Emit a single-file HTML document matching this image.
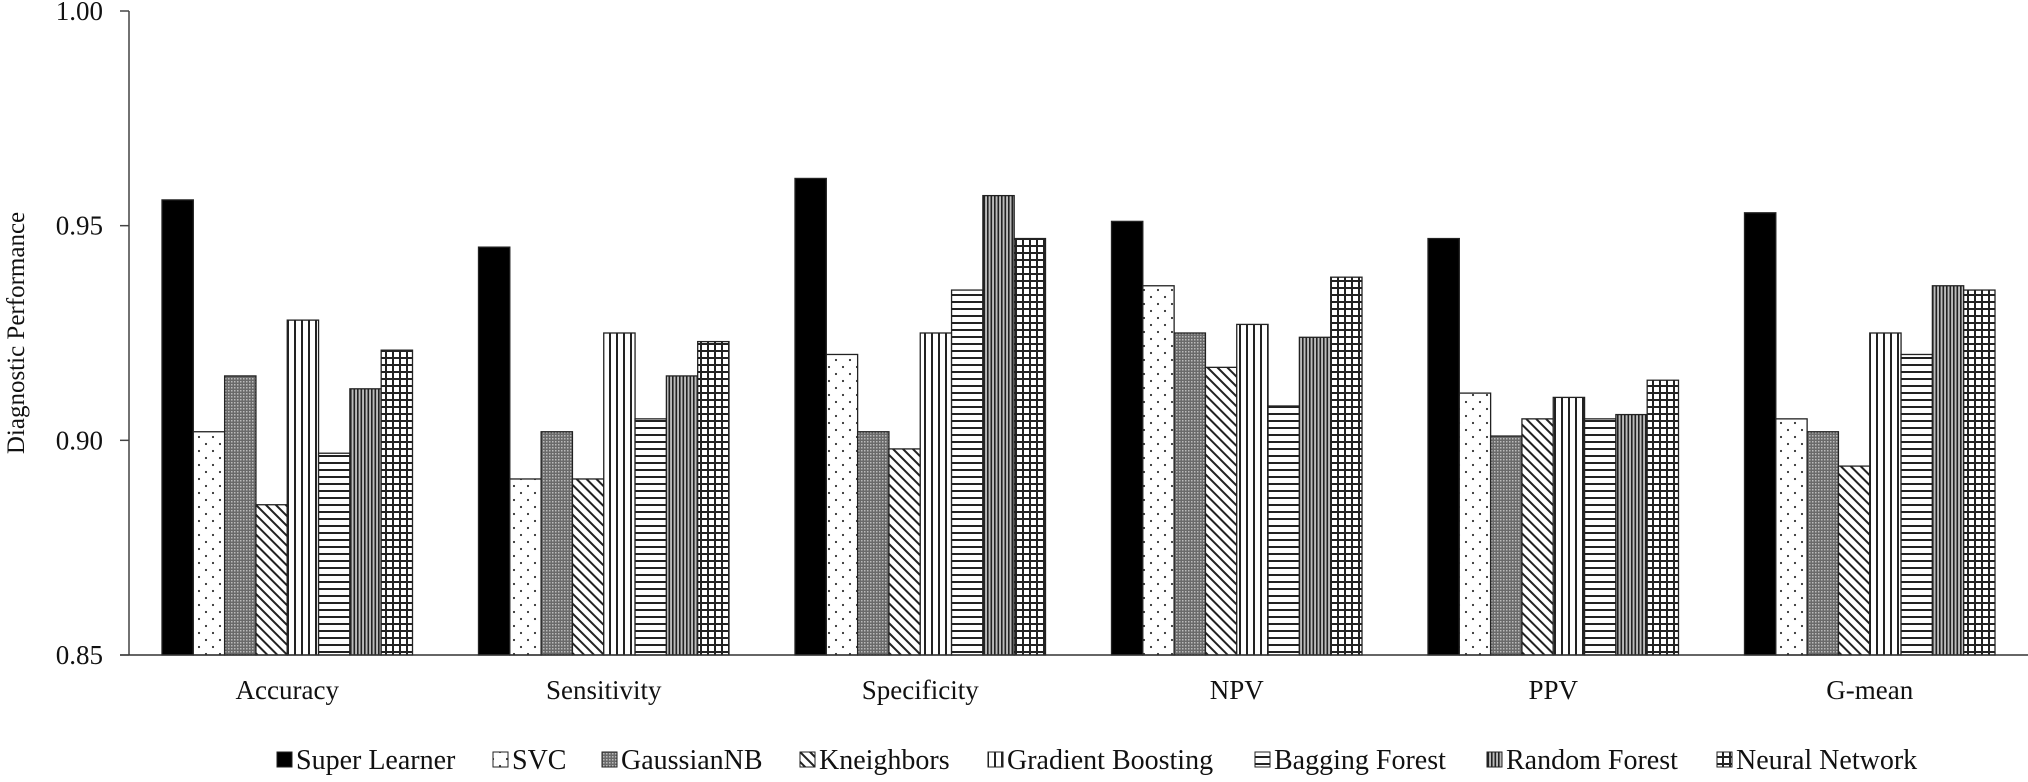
<!DOCTYPE html>
<html><head><meta charset="utf-8">
<style>
html,body{margin:0;padding:0;background:#fff;}
svg{display:block;font-family:"Liberation Serif",serif;}
</style></head>
<body>
<svg id="chart" width="2028" height="782" viewBox="0 0 2028 782" xmlns="http://www.w3.org/2000/svg">
<defs>
  <pattern id="p1" width="14" height="14" patternUnits="userSpaceOnUse"><rect width="14" height="14" fill="#fff"/><circle cx="3" cy="3" r="1.1" fill="#333"/><circle cx="10" cy="10" r="1.1" fill="#333"/></pattern>
  <pattern id="p2" width="3" height="3" patternUnits="userSpaceOnUse"><rect width="3" height="3" fill="#6a6a6a"/><rect width="1.5" height="1.5" fill="#bbb"/></pattern>
  <pattern id="p3" width="7" height="7" patternUnits="userSpaceOnUse" patternTransform="rotate(45)"><rect width="7" height="7" fill="#fff"/><rect width="7" height="2" fill="#222"/></pattern>
  <pattern id="p4" width="7" height="7" patternUnits="userSpaceOnUse"><rect width="7" height="7" fill="#fff"/><rect width="2" height="7" fill="#222"/></pattern>
  <pattern id="p5" width="7" height="7" patternUnits="userSpaceOnUse"><rect width="7" height="7" fill="#fff"/><rect width="7" height="2" fill="#222"/></pattern>
  <pattern id="p6" width="3.5" height="3.5" patternUnits="userSpaceOnUse"><rect width="3.5" height="3.5" fill="#bbb"/><rect width="1.6" height="3.5" fill="#222"/></pattern>
  <pattern id="p7" width="7" height="7" patternUnits="userSpaceOnUse"><rect width="7" height="7" fill="#fff"/><rect width="2" height="7" fill="#222"/><rect width="7" height="2" fill="#222"/></pattern>
</defs>
<g id="bars"></g>
<g id="axes"></g>
<g id="legend"></g>
</svg>
<script>
const categories = ["Accuracy","Sensitivity","Specificity","NPV","PPV","G-mean"];
const seriesNames = ["Super Learner","SVC","GaussianNB","Kneighbors","Gradient Boosting","Bagging Forest","Random Forest","Neural Network"];
const superLearner = [0.956,0.945,0.961,0.951,0.947,0.953];
const svc = [0.902,0.891,0.920,0.936,0.911,0.905];
const gaussianNB = [0.915,0.902,0.902,0.925,0.901,0.902];
const kneighbors = [0.885,0.891,0.898,0.917,0.905,0.894];
const gradientBoosting = [0.928,0.925,0.925,0.927,0.910,0.925];
const baggingForest = [0.897,0.905,0.935,0.908,0.905,0.920];
const randomForest = [0.912,0.915,0.957,0.924,0.906,0.936];
const neuralNetwork = [0.921,0.923,0.947,0.938,0.914,0.935];
const yTicks = ["0.85","0.90","0.95","1.00"];

const series = [superLearner,svc,gaussianNB,kneighbors,gradientBoosting,baggingForest,randomForest,neuralNetwork];
const fills = ["#000","url(#p1)","url(#p2)","url(#p3)","url(#p4)","url(#p5)","url(#p6)","url(#p7)"];
const NS = "http://www.w3.org/2000/svg";
const X0 = 129, X1 = 2028, Y0 = 655, Y1 = 11, YMIN = 0.85, YMAX = 1.0;
const groupW = (X1 - X0) / categories.length;
const pad = 33, barW = (groupW - 2*pad) / series.length;
function yScale(v){ return Y0 - (v - YMIN) / (YMAX - YMIN) * (Y0 - Y1); }
function xGroup(i){ return X0 + i * groupW; }
function mk(tag, attrs, parent){ const e = document.createElementNS(NS, tag); for (const k in attrs) e.setAttribute(k, attrs[k]); parent.appendChild(e); return e; }

const gb = document.getElementById('bars');
categories.forEach((c, ci) => {
  series.forEach((s, si) => {
    const x = xGroup(ci) + pad + si * barW;
    const y = yScale(s[ci]);
    const r = mk('rect', {x: x, y: y, width: barW, height: Y0 - y, fill: fills[si], stroke: "#222", "stroke-width": 1.3}, gb);
    
    
  });
});

const ga = document.getElementById('axes');
const ya = mk('line', {x1: X0, y1: Y1, x2: X0, y2: Y0, stroke: "#444", "stroke-width": 1.5}, ga);


const xa = mk('line', {x1: 120, y1: Y0, x2: X1, y2: Y0, stroke: "#333", "stroke-width": 1.5}, ga);


yTicks.forEach(t => {
  const y = yScale(parseFloat(t));
  mk('line', {x1: 120, y1: y, x2: X0, y2: y, stroke: "#444", "stroke-width": 1.5}, ga);
  const tx = mk('text', {x: 103, y: y + 9, "text-anchor": "end", "font-size": 27, fill: "#111"}, ga);
  tx.textContent = t;
  
  
});
categories.forEach((c, ci) => {
  const tx = mk('text', {x: xGroup(ci) + groupW/2, y: 699, "text-anchor": "middle", "font-size": 27, fill: "#111"}, ga);
  tx.textContent = c;
  
  
});
const yt = mk('text', {x: 0, y: 0, transform: "translate(24,333) rotate(-90)", "text-anchor": "middle", "font-size": 25, fill: "#111"}, ga);
yt.textContent = "Diagnostic Performance";



const gl = document.getElementById('legend');
const legendX = [277, 493, 602, 800, 988, 1255, 1487, 1717];
seriesNames.forEach((n, i) => {
  const g = mk('g', {}, gl);
  
  
  mk('rect', {x: legendX[i], y: 752, width: 15, height: 15, fill: fills[i], stroke: "#222", "stroke-width": 1}, g);
  const tx = mk('text', {x: legendX[i] + 19, y: 769, "font-size": 28, fill: "#111"}, g);
  tx.textContent = n;
});
</script>
</body></html>
